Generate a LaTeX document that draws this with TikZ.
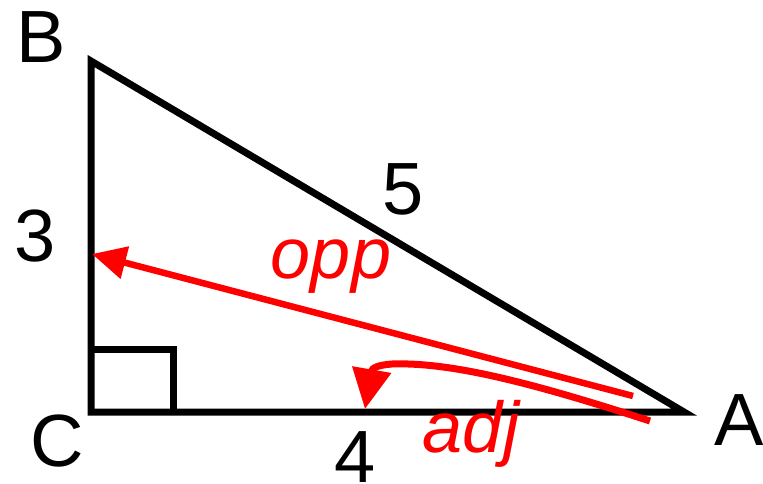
\documentclass[tikz,border=0pt]{standalone}
\usepackage{fontspec}
\setmainfont{Liberation Sans}
\usetikzlibrary{arrows.meta}
\definecolor{myred}{RGB}{255,0,0}
\tikzset{
  lbl/.style={inner sep=0pt, anchor=base, font=\fontsize{74}{80}\selectfont},
  rlbl/.style={inner sep=0pt, anchor=base, text=myred, font=\fontsize{72}{80}\selectfont\itshape},
  tri/.style={line width=7pt, black, line join=miter},
  redarrow/.style={line width=6.5pt, myred, -{Triangle[length=34pt,width=32pt]}},
  redcurve/.style={line width=7pt, myred, -{Triangle[length=40pt,width=38pt]}},
}
\begin{document}
\begin{tikzpicture}[x=1pt,y=-1pt]
\useasboundingbox (0,0) rectangle (763,484);
\coordinate (B) at (91,61);
\coordinate (C) at (91,412);
\coordinate (A) at (684,412);
\draw[tri] (B) -- (C) -- (A) -- cycle;
\coordinate (sq1) at (91,349);
\coordinate (sq2) at (173,349);
\coordinate (sq3) at (173,412);
\draw[tri] (sq1) -- (sq2) -- (sq3);
\node[lbl] (lB) at (41,63) {B};
\node[lbl] (l3) at (35,261) {3};
\node[lbl] (l5) at (403,214) {5};
\node[lbl] (lC) at (57,466) {C};
\node[lbl] (l4) at (355,482) {4};
\node[lbl] (lA) at (739,445) {A};
\node[rlbl] (opp) at (331,278) {opp};
\node[rlbl] (adj) at (471,452) {adj};
\coordinate (oppS) at (633,396);
\coordinate (oppE) at (92,254);
\draw[redarrow] (oppS) -- (oppE);
\coordinate (adjS) at (650,421);
\coordinate (adjM) at (392,364);
\coordinate (adjE) at (365,409);
\draw[redcurve] (adjS) .. controls (530,382) and (450,362) .. (adjM) .. controls (378,365) and (372,368) .. (adjE);
\end{tikzpicture}
\end{document}
